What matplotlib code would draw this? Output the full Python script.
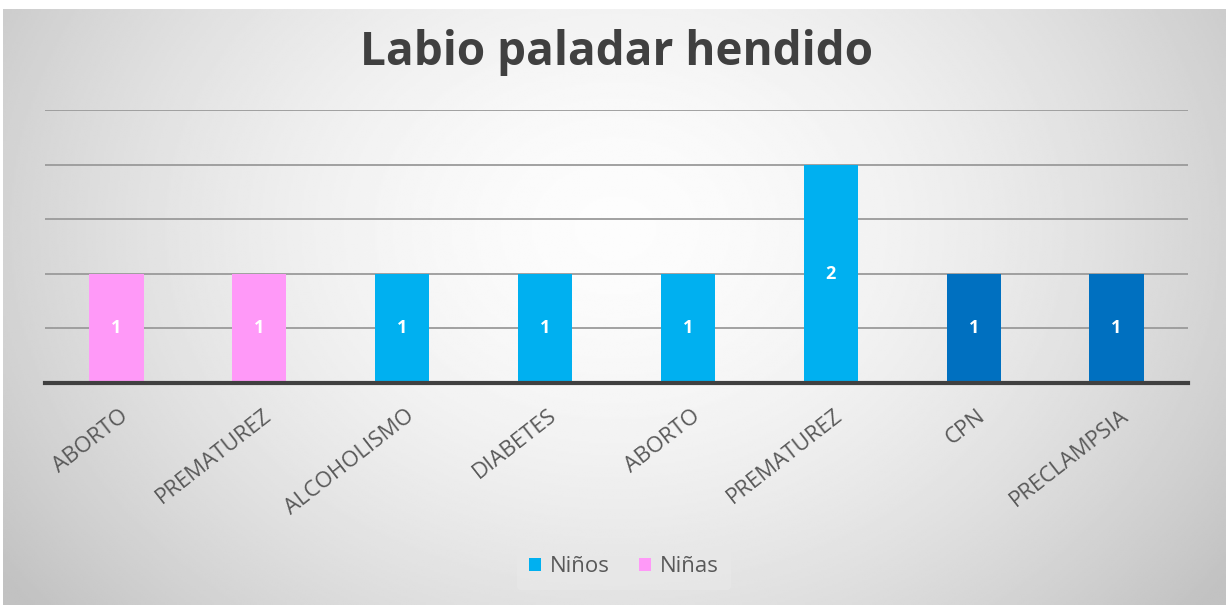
import numpy as np
import matplotlib
matplotlib.use("Agg")
import matplotlib.pyplot as plt
import matplotlib.transforms as mtransforms
from matplotlib.patches import Patch

categories = ["ABORTO", "PREMATUREZ", "ALCOHOLISMO", "DIABETES",
              "ABORTO", "PREMATUREZ", "CPN", "PRECLAMPSIA"]
values = [1, 1, 1, 1, 1, 2, 1, 1]
bar_colors = ["#FF99F8", "#FF99F8", "#00B0F0", "#00B0F0",
              "#00B0F0", "#00B0F0", "#0070C0", "#0070C0"]
legend_labels = ["Niños", "Niñas"]
legend_colors = ["#00B0F0", "#FF99F8"]
title = "Labio paladar hendido"

W, H = 1226, 605
fig = plt.figure(figsize=(W / 100, H / 100), dpi=100)
fig.patch.set_facecolor("white")

# soft radial gradient backdrop of the chart area
bg = fig.add_axes([3 / W, 0, 1 - 3 / W, 1 - 9 / H])
bg.set_axis_off()
yy, xx = np.mgrid[0:300, 0:600]
cx, cy = 300, 110
r = np.sqrt(((xx - cx) / 320.0) ** 2 + ((yy - cy) / 260.0) ** 2)
shade = np.clip(0.99 - 0.18 * r ** 1.7, 0.76, 1.0)
bg.imshow(shade, cmap="gray", vmin=0, vmax=1, aspect="auto",
          extent=[0, 1, 0, 1], origin="upper", interpolation="bilinear")
bg.set_xlim(0, 1)
bg.set_ylim(0, 1)

ax = fig.add_axes([45 / W, 1 - 383 / H, (1188 - 45) / W, (383 - 110) / H])
ax.patch.set_alpha(0)
x = np.arange(len(categories))
bars = ax.bar(x, values, width=0.38, color=bar_colors, zorder=3)
ax.set_xlim(-0.5, len(categories) - 0.5)
ax.set_ylim(0, 2.5)
ax.set_yticks(np.arange(0, 2.51, 0.5))
ax.yaxis.grid(True, color="#9a9a9a", linewidth=1.3, zorder=0)
ax.tick_params(axis="y", left=False, labelleft=False)
ax.tick_params(axis="x", length=0, pad=16)
for s in ["top", "right", "left"]:
    ax.spines[s].set_visible(False)
ax.spines["bottom"].set_color("#404040")
ax.spines["bottom"].set_linewidth(3)
ax.spines["bottom"].set_zorder(4)
ax.set_xticks(x)
ax.set_xticklabels(categories, rotation=38, ha="right", va="top",
                   rotation_mode="anchor", fontsize=16, color="#595959",
                   family="Open Sans")
shift = mtransforms.ScaledTranslation(3 / 100, 0, fig.dpi_scale_trans)
for lbl in ax.get_xticklabels():
    lbl.set_transform(lbl.get_transform() + shift)

for b, v in zip(bars, values):
    ax.text(b.get_x() + b.get_width() / 2, v / 2, str(v), ha="center", va="center",
            color="white", fontsize=13, fontweight="bold", family="Open Sans", zorder=5)

fig.text(617 / W, 1 - 52 / H, title, ha="center", va="center", fontsize=33,
         fontweight="bold", color="#404040", family="Open Sans")

handles = [Patch(facecolor=c, edgecolor="none") for c in legend_colors]
leg = fig.legend(handles, legend_labels, loc="center", bbox_to_anchor=(624 / W, 1 - 567 / H),
                 ncol=2, frameon=True, handlelength=0.55, handleheight=0.55,
                 handletextpad=0.4, columnspacing=1.3, borderpad=0.55,
                 prop={"family": "Open Sans", "size": 16})
leg.get_frame().set_facecolor("#e8e8e8")
leg.get_frame().set_edgecolor("none")
leg.get_frame().set_alpha(0.8)
for t in leg.get_texts():
    t.set_color("#595959")

fig.savefig("out.png", dpi=100)
